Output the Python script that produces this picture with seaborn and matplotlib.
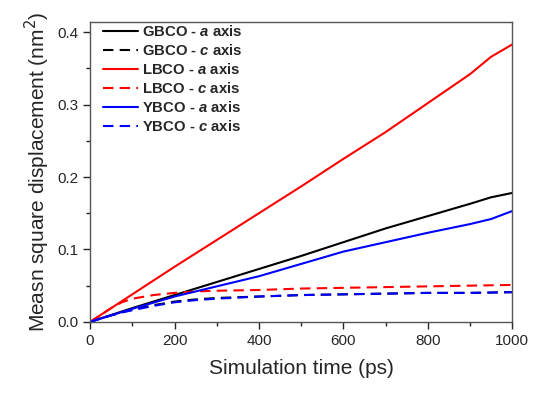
import matplotlib
matplotlib.use("Agg")
import matplotlib.pyplot as plt
import seaborn as sns
from matplotlib.ticker import MultipleLocator

sns.set_style("white")
plt.rcParams["font.family"] = ["Liberation Sans", "DejaVu Sans"]
plt.rcParams["mathtext.fontset"] = "custom"
plt.rcParams["mathtext.it"] = "Liberation Sans:italic:bold"
plt.rcParams["mathtext.rm"] = "Liberation Sans:bold"

# Data
time_a = [0, 100, 200, 300, 400, 500, 600, 700, 800, 900, 950, 1000]
gbco_a = [0, 0.019, 0.037, 0.055, 0.073, 0.091, 0.110, 0.129, 0.146, 0.163, 0.172, 0.178]
lbco_a = [0, 0.038, 0.076, 0.113, 0.150, 0.187, 0.225, 0.262, 0.302, 0.342, 0.366, 0.383]
ybco_a = [0, 0.018, 0.035, 0.049, 0.063, 0.080, 0.097, 0.110, 0.123, 0.135, 0.142, 0.153]

time_c = [0, 25, 50, 75, 100, 150, 200, 250, 300, 400, 500, 600, 700, 800, 900, 1000]
gbco_c = [0, 0.005, 0.009, 0.013, 0.017, 0.023, 0.028, 0.031, 0.033, 0.035, 0.037, 0.038, 0.039, 0.040, 0.040, 0.041]
lbco_c = [0, 0.0095, 0.019, 0.027, 0.032, 0.037, 0.040, 0.042, 0.043, 0.044, 0.046, 0.047, 0.048, 0.049, 0.050, 0.051]
ybco_c = [0, 0.0045, 0.009, 0.013, 0.016, 0.022, 0.027, 0.030, 0.032, 0.035, 0.037, 0.038, 0.039, 0.040, 0.040, 0.041]

dash = (0, (5, 3))
series = [
    (time_a, gbco_a, "black", "-", r"GBCO - $a$ axis"),
    (time_c, gbco_c, "black", dash, r"GBCO - $c$ axis"),
    (time_a, lbco_a, "red", "-", r"LBCO - $a$ axis"),
    (time_c, lbco_c, "red", dash, r"LBCO - $c$ axis"),
    (time_a, ybco_a, "blue", "-", r"YBCO - $a$ axis"),
    (time_c, ybco_c, "blue", dash, r"YBCO - $c$ axis"),
]

fig = plt.figure(figsize=(5.33, 3.93), dpi=100)
ax = fig.add_axes([0.169, 0.181, 0.792, 0.763])

for t, y, c, ls, lab in series:
    sns.lineplot(x=t, y=y, color=c, linestyle=ls, linewidth=1.5, label=lab, ax=ax)

ax.set_xlim(0, 1000)
ax.set_ylim(0, 0.414)
ax.xaxis.set_major_locator(MultipleLocator(200))
ax.xaxis.set_minor_locator(MultipleLocator(100))
ax.yaxis.set_major_locator(MultipleLocator(0.1))
ax.yaxis.set_minor_locator(MultipleLocator(0.05))
ax.tick_params(which="major", direction="out", length=5, width=1, labelsize=11,
               bottom=True, left=True, top=False, right=False)
ax.tick_params(which="minor", direction="out", length=3, width=1,
               bottom=True, left=True, top=False, right=False)
for s in ax.spines.values():
    s.set_color("#555555")
    s.set_linewidth(1)

ax.set_xlabel("Simulation time (ps)", fontsize=15, labelpad=8)
ax.set_ylabel("Measn square displacement (nm$^2$)", fontsize=15)
ax.yaxis.label.set_math_fontfamily("dejavusans")

leg = ax.legend(loc="upper left", bbox_to_anchor=(0.031, 0.992), frameon=False,
                fontsize=10.7, handlelength=2.35, handletextpad=0.27,
                labelspacing=0.27, borderaxespad=0, borderpad=0)
for txt in leg.get_texts():
    txt.set_fontweight("bold")

fig.savefig("out.png", dpi=100)
